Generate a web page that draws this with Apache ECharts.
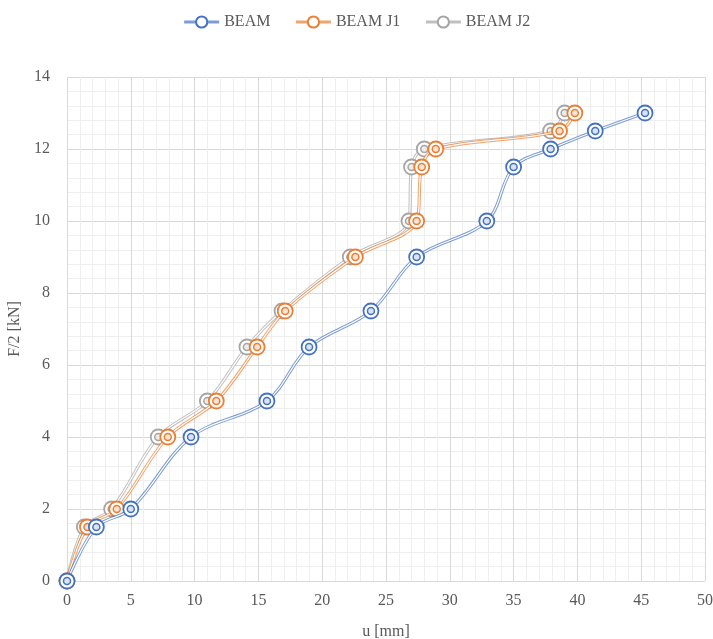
<!DOCTYPE html>
<html>
<head>
<meta charset="utf-8">
<script src="https://cdn.jsdelivr.net/npm/echarts@6/dist/echarts.min.js"></script>
<style>html,body{margin:0;padding:0;background:#fff}#c{width:713px;height:639px}</style>
</head>
<body>
<div id="c"></div>
<script>
const seriesNames = ['BEAM', 'BEAM J1', 'BEAM J2'];
const loadValues = [0, 1.5, 2, 4, 5, 6.5, 7.5, 9, 10, 11.5, 12, 12.5, 13];
const beamU = [0, 2.3, 5.0, 9.72, 15.67, 18.97, 23.82, 27.4, 32.9, 35.0, 37.9, 41.4, 45.3];
const beamJ1U = [0, 1.6, 3.9, 7.9, 11.7, 14.9, 17.1, 22.6, 27.4, 27.8, 28.9, 38.6, 39.8];
const beamJ2U = [0, 1.36, 3.5, 7.15, 11.0, 14.1, 16.85, 22.2, 26.8, 27.0, 28.0, 37.9, 39.0];
const colors = ['#4472C4', '#ED7D31', '#A5A5A5'];
const lightColors = ['#dbe4f4', '#fbe3d3', '#ececec'];

const uLists = [beamU, beamJ1U, beamJ2U];
const FONT = 'Liberation Serif';
const series = [];
// draw J2 first, then J1, then BEAM on top
[2, 1, 0].forEach((k, order) => {
  const data = uLists[k].map((u, i) => [u, loadValues[i]]);
  const zb = 2 + order * 3;
  series.push({
    type: 'line', data, smooth: 0.35, symbol: 'none', z: zb,
    lineStyle: { color: colors[k], width: 3.2, opacity: 0.7 },
    silent: true
  });
  series.push({
    name: seriesNames[k],
    type: 'line', data, smooth: 0.35, symbol: 'circle', symbolSize: 15, z: zb + 1,
    showAllSymbol: true,
    lineStyle: { color: '#ffffff', width: 1.2 },
    itemStyle: { color: '#ffffff', borderColor: colors[k], borderWidth: 1.8 },
    silent: true
  });
  series.push({
    type: 'line', data, symbol: 'circle', symbolSize: 7, z: zb + 2,
    showAllSymbol: true,
    lineStyle: { width: 0, opacity: 0 },
    itemStyle: { color: lightColors[k], borderColor: colors[k], borderWidth: 1.5 },
    silent: true
  });
});

const chart = echarts.init(document.getElementById('c'));
chart.setOption({
  animation: false,
  backgroundColor: '#ffffff',
  legend: {
    top: 9, left: 'center', itemWidth: 35, itemHeight: 14, itemGap: 24,
    textStyle: { fontFamily: FONT, fontSize: 16, color: '#595959' },
    data: seriesNames.map((n, k) => ({
      name: n,
      lineStyle: { color: colors[k], width: 3, opacity: 0.7 },
      itemStyle: { color: '#ffffff', borderColor: colors[k], borderWidth: 2 }
    }))
  },
  grid: { left: 67, right: 8, top: 77, bottom: 58, containLabel: false, outerBoundsMode: 'none' },
  xAxis: {
    type: 'value', min: 0, max: 50, interval: 5,
    name: 'u [mm]', nameLocation: 'middle', nameGap: 43,
    nameTextStyle: { fontFamily: FONT, fontSize: 16, color: '#595959' },
    axisLine: { show: false }, axisTick: { show: false },
    axisLabel: { fontFamily: FONT, fontSize: 16, color: '#595959', margin: 12 },
    splitLine: { show: true, lineStyle: { color: '#d9d9d9', width: 1 } },
    minorTick: { show: false, splitNumber: 5 },
    minorSplitLine: { show: true, lineStyle: { color: '#efefef', width: 1 } }
  },
  yAxis: {
    type: 'value', min: 0, max: 14, interval: 2,
    name: 'F/2 [kN]', nameLocation: 'middle', nameGap: 38,
    nameTextStyle: { fontFamily: FONT, fontSize: 16, color: '#595959' },
    axisLine: { show: false }, axisTick: { show: false },
    axisLabel: { fontFamily: FONT, fontSize: 16, color: '#595959', margin: 17 },
    splitLine: { show: true, lineStyle: { color: '#d9d9d9', width: 1 } },
    minorTick: { show: false, splitNumber: 5 },
    minorSplitLine: { show: true, lineStyle: { color: '#efefef', width: 1 } }
  },
  series
});
</script>
</body>
</html>
